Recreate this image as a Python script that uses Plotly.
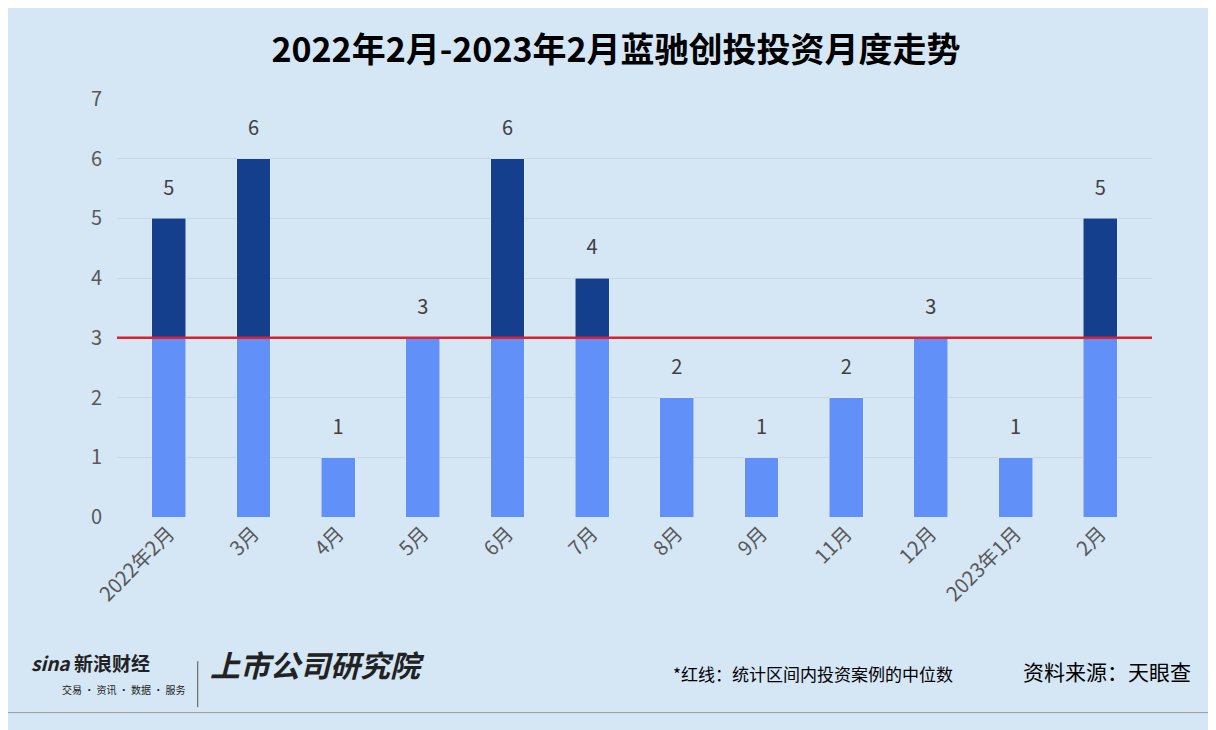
import plotly.graph_objects as go

months = ["2022年2月", "3月", "4月", "5月", "6月", "7月", "8月", "9月", "11月", "12月", "2023年1月", "2月"]
counts = [5, 6, 1, 3, 6, 4, 2, 1, 2, 3, 1, 5]
median = 3

lower = [min(v, median) for v in counts]
upper = [max(v - median, 0) for v in counts]

fig = go.Figure()
fig.add_trace(go.Bar(x=months, y=lower, marker_color="#6090F8", width=0.4))
fig.add_trace(go.Bar(x=months, y=upper, marker_color="#133F8C", width=0.4))
# value labels floated a little above each bar
fig.add_trace(go.Scatter(x=months, y=[v + 0.48 for v in counts], mode="text",
                         text=[str(v) for v in counts],
                         textfont=dict(size=20, color="#404040"), cliponaxis=False))
fig.add_shape(type="line", xref="paper", x0=0, x1=1, yref="y", y0=median, y1=median,
              line=dict(color="#E0202A", width=2.5))

fig.update_layout(
    width=1216, height=730, barmode="stack", showlegend=False,
    paper_bgcolor="#D5E6F5", plot_bgcolor="#D5E6F5",
    font=dict(family="Noto Sans CJK SC", color="#595959"),
    margin=dict(l=109, r=72, t=91, b=221),
    title=dict(text="<b>2022年2月-2023年2月蓝驰创投投资月度走势</b>", x=0.5, y=0.943,
               xanchor="center", yanchor="middle", font=dict(size=34, color="black")),
    xaxis=dict(tickangle=-45, tickfont=dict(size=20, color="#595959"), showline=False),
    yaxis=dict(range=[0, 7], dtick=1, tickfont=dict(size=20, color="#595959"),
               gridcolor="#C9D6E3", zeroline=False, ticklabelstandoff=14),
    annotations=[
        dict(text="*红线：统计区间内投资案例的中位数", xref="paper", yref="paper",
             x=0.81, y=-0.41, xanchor="right", showarrow=False,
             font=dict(size=17, color="black")),
        dict(text="资料来源：天眼查", xref="paper", yref="paper",
             x=1.04, y=-0.41, xanchor="right", showarrow=False,
             font=dict(size=21, color="black")),
        dict(text="<b><i>sina</i> 新浪财经</b>", xref="paper", yref="paper",
             x=-0.085, y=-0.385, xanchor="left", showarrow=False,
             font=dict(size=19, color="#222")),
        dict(text="交易 · 资讯 · 数据 · 服务", xref="paper", yref="paper",
             x=-0.055, y=-0.435, xanchor="left", showarrow=False,
             font=dict(size=10, color="#222")),
        dict(text="<b><i>上市公司研究院</i></b>", xref="paper", yref="paper",
             x=0.088, y=-0.41, xanchor="left", showarrow=False,
             font=dict(size=30, color="#222")),
    ],
)
fig.add_shape(type="line", xref="paper", yref="paper", x0=0.078, x1=0.078, y0=-0.345, y1=-0.455,
              line=dict(color="#555", width=1))
fig.add_shape(type="line", xref="paper", yref="paper", x0=-0.13, x1=1.08, y0=-0.468, y1=-0.468,
              line=dict(color="#999", width=1))

fig.write_html("out.html")
